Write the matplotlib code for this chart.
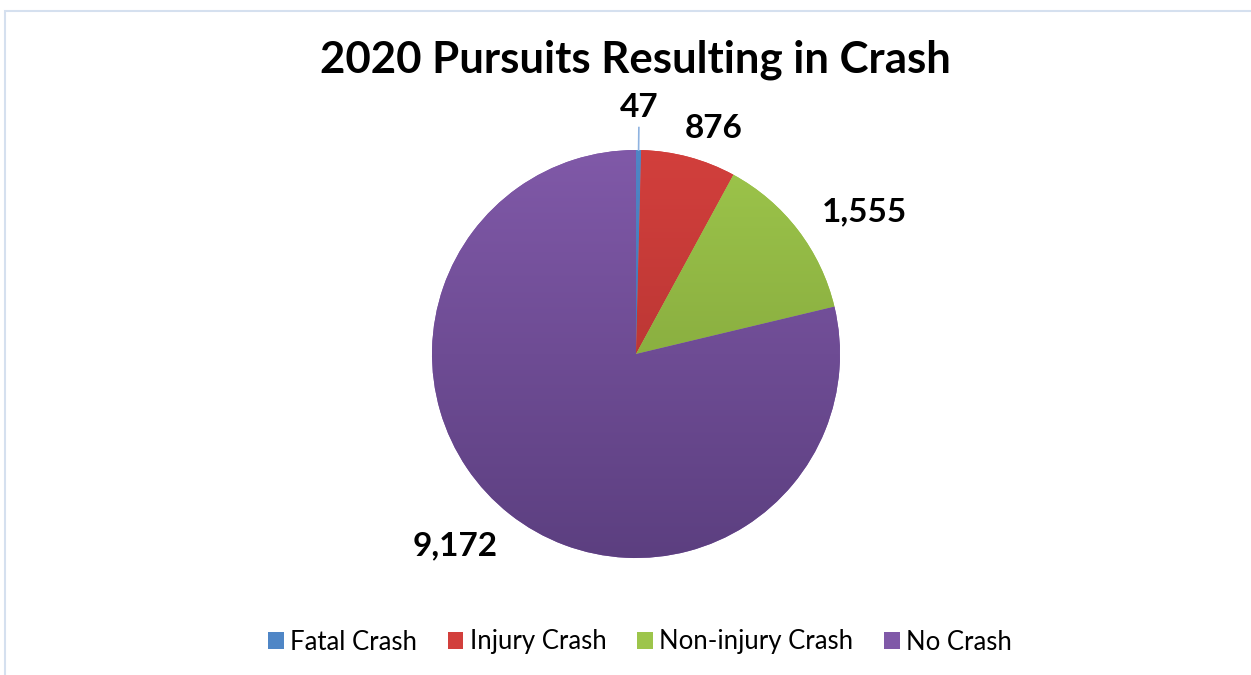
import numpy as np
import matplotlib
matplotlib.use("Agg")
import matplotlib.pyplot as plt
from matplotlib.patches import Patch, Rectangle
from matplotlib.colors import LinearSegmentedColormap

categories = ["Fatal Crash", "Injury Crash", "Non-injury Crash", "No Crash"]
values = [47, 876, 1555, 9172]
labels = ["47", "876", "1,555", "9,172"]

top_colors = ["#4F86C6", "#D23F3C", "#9DC54B", "#8059A8"]
bot_colors = ["#3A6AA8", "#A8302E", "#789A36", "#5C3F80"]
label_dist = [1.21, 1.17, 1.32, 1.29]
label_ang_off = [0.0, -4.0, -5.5, -5.0]

plt.rcParams['font.family'] = ['Lato', 'DejaVu Sans']
W, H = 1251, 675
fig = plt.figure(figsize=(W / 100, H / 100), dpi=100)
fig.patch.set_facecolor("white")

# border
fig.add_artist(Rectangle((5 / W, -0.1), 1.2, (H - 11) / H + 0.1, transform=fig.transFigure,
                         fill=False, edgecolor="#D5E0EF", linewidth=1.5))

cx, cy, r = 636, H - 354, 204
ax = fig.add_axes([(cx - r) / W, (cy - r) / H, 2 * r / W, 2 * r / H])
ax.set_xlim(-1, 1)
ax.set_ylim(-1, 1)
ax.set_aspect("equal")
ax.axis("off")

wedges, _ = ax.pie(values, startangle=90, counterclock=False, radius=1, center=(0, 0),
                   colors=top_colors, wedgeprops=dict(linewidth=0))
ax.set_xlim(-1, 1)
ax.set_ylim(-1, 1)

grad = np.linspace(0, 1, 256).reshape(-1, 1)
for w, tc, bc in zip(wedges, top_colors, bot_colors):
    cmap = LinearSegmentedColormap.from_list("g", [tc, bc])
    im = ax.imshow(grad, cmap=cmap, extent=[-1, 1, -1, 1], origin="upper", aspect="auto", zorder=2)
    im.set_clip_path(w)

total = sum(values)
start = 90.0
for i, (v, lab) in enumerate(zip(values, labels)):
    span = v / total * 360
    mid = start - span / 2
    start -= span
    a = np.deg2rad(mid + label_ang_off[i])
    d = label_dist[i]
    ax.text(d * np.cos(a), d * np.sin(a), lab, ha="center", va="center",
            fontsize=24, fontweight="bold", color="black", zorder=5, clip_on=False)
    if i == 0:
        am = np.deg2rad(mid)
        ax.plot([np.cos(am), 1.11 * np.cos(am)], [np.sin(am), 1.11 * np.sin(am)],
                color="#8FB3E0", linewidth=1.2, zorder=4, clip_on=False)

fig.text(635 / W, 1 - 60 / H, "2020 Pursuits Resulting in Crash", ha="center", va="center",
         fontsize=31.5, fontweight="bold")

handles = [Patch(facecolor=c, edgecolor="none") for c in top_colors]
fig.legend(handles, categories, loc="center", bbox_to_anchor=(640 / W, 1 - 642 / H), ncol=4,
           frameon=False, fontsize=18.5, handlelength=0.6, handleheight=0.6, handletextpad=0.25,
           columnspacing=1.2)

fig.savefig("out.png", dpi=100)
